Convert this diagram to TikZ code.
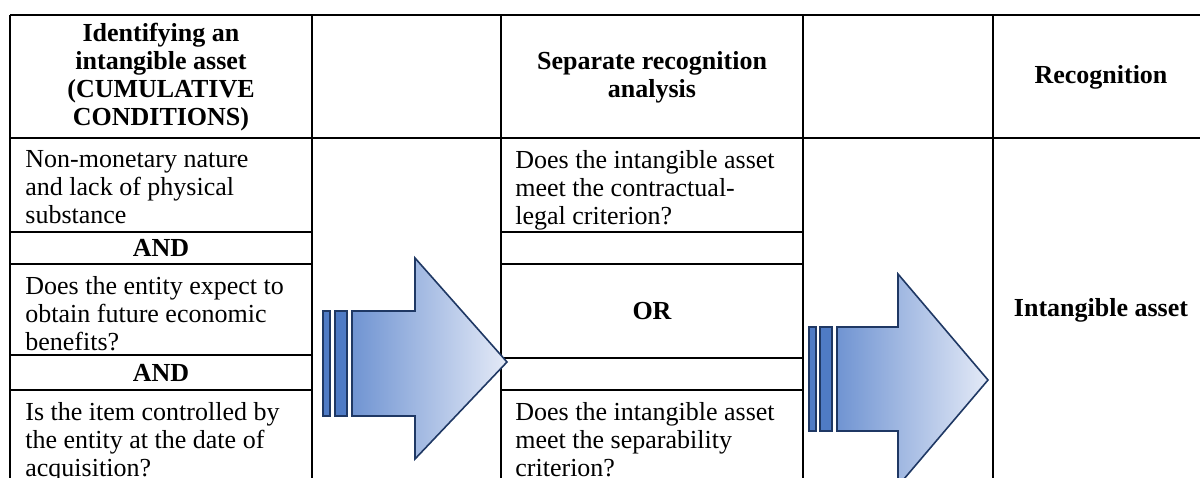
\documentclass[tikz,border=0pt]{standalone}
\usepackage{fontspec}
\setmainfont{Liberation Serif}
\usetikzlibrary{positioning}

\definecolor{navy}{RGB}{31,56,100}
\definecolor{barblue}{RGB}{79,123,197}
\definecolor{arrowblue}{RGB}{112,148,210}
\definecolor{tipblue}{RGB}{228,234,247}

\begin{document}
\begin{tikzpicture}[x=0.5pt, y=-0.5pt,
    every node/.style={font=\fontsize{13}{14}\selectfont, inner sep=0pt},
    cell/.style={anchor=north west, align=left},
    head/.style={align=center, font=\fontsize{13}{14}\selectfont\bfseries},
    grid/.style={line width=0.9pt},
    vgrid/.style={line width=0.6pt},
    bar/.style={draw=navy, line width=0.8pt, fill=barblue},
    flow/.style={draw=navy, line width=0.8pt, left color=arrowblue, middle color=white, right color=tipblue}]
  \useasboundingbox (0,0) rectangle (1200,477);
  \clip (0,0) rectangle (1200,477);

  % table lines
  \draw[grid] (10,15) -- (1200,15);
  \draw[grid] (10,138) -- (1200,138);
  \foreach \y in {232,264,355,390}
    \draw[grid] (10,\y) -- (312,\y);
  \foreach \y in {232,264,358,390}
    \draw[grid] (501,\y) -- (803,\y);
  \foreach \x in {10,312,501,803,993}
    \draw[vgrid] (\x,15) -- (\x,480);

  % headers
  \node[head] (hId) at (161,77) {Identifying an\\intangible asset\\(CUMULATIVE\\CONDITIONS)};
  \node[head] (hSep) at (652,77) {Separate recognition\\analysis};
  \node[head] (hRec) at (1101,77) {Recognition};

  % conditions
  \node[cell] (cNature) at (25,150) {Non-monetary nature\\and lack of physical\\substance};
  \node[head] (and1) at (161,248) {AND};
  \node[cell] (cBenefit) at (25,276) {Does the entity expect to\\obtain future economic\\benefits?};
  \node[head] (and2) at (161,373) {AND};
  \node[cell] (cControl) at (25,402) {Is the item controlled by\\the entity at the date of\\acquisition?};

  % separate recognition
  \node[cell] (cLegal) at (515,150) {Does the intangible asset\\meet the contractual-\\legal criterion?};
  \node[head] (orNode) at (652,311) {OR};
  \node[cell] (cSepar) at (515,402) {Does the intangible asset\\meet the separability\\criterion?};

  % result
  \node[head] (rAsset) at (1101,310) {Intangible asset};

  % arrows
  \draw[bar] (323,311) rectangle (330,416);
  \draw[bar] (335,311) rectangle (347,416);
  \draw[flow] (352,311) -- (415,311) -- (415,258) -- (507,362) -- (415,459) -- (415,416) -- (352,416) -- cycle;

  \draw[bar] (809,327) rectangle (816,431);
  \draw[bar] (820,327) rectangle (832,431);
  \draw[flow] (837,327) -- (898,327) -- (898,274) -- (988,380) -- (898,486) -- (898,431) -- (837,431) -- cycle;
\end{tikzpicture}
\end{document}
